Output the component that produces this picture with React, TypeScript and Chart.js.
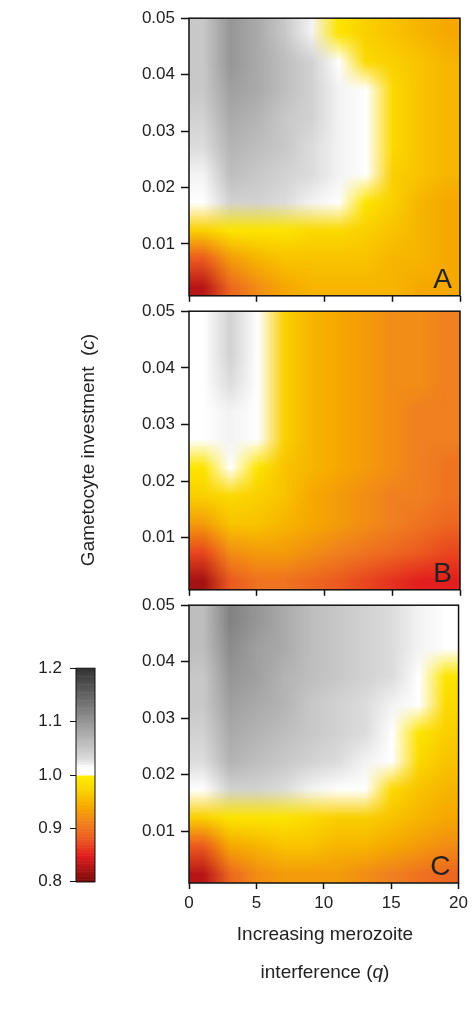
import { useEffect, useRef } from 'react';
import { Chart, registerables } from 'chart.js';

Chart.register(...registerables);

// merozoite interference (q) cell centres, gametocyte investment (c) rows top -> bottom
const Q_CENTERS = [1, 3, 5, 7, 9, 11, 13, 15, 17, 19];
const C_CENTERS = [0.0475, 0.0425, 0.0375, 0.0325, 0.0275, 0.0225, 0.0175, 0.0125, 0.0075, 0.0025];
const Y_TICKS = [0.01, 0.02, 0.03, 0.04, 0.05];
const X_TICKS = [0, 5, 10, 15, 20];
const BAR_TICKS = [0.8, 0.9, 1.0, 1.1, 1.2];

const PANEL_A = [
  [1.05, 1.10, 1.08, 1.05, 1.02, 0.99, 0.97, 0.96, 0.95, 0.94],
  [1.05, 1.10, 1.08, 1.06, 1.04, 1.01, 0.98, 0.97, 0.96, 0.95],
  [1.05, 1.09, 1.08, 1.06, 1.04, 1.02, 1.00, 0.98, 0.96, 0.95],
  [1.04, 1.08, 1.07, 1.05, 1.04, 1.02, 1.01, 0.98, 0.96, 0.95],
  [1.03, 1.07, 1.06, 1.05, 1.03, 1.02, 1.01, 0.98, 0.96, 0.95],
  [1.02, 1.06, 1.05, 1.04, 1.03, 1.02, 1.01, 0.97, 0.96, 0.95],
  [1.01, 1.04, 1.04, 1.03, 1.02, 1.01, 0.99, 0.97, 0.95, 0.94],
  [0.97, 0.99, 0.99, 0.99, 0.98, 0.98, 0.97, 0.96, 0.95, 0.94],
  [0.88, 0.93, 0.95, 0.96, 0.96, 0.96, 0.96, 0.95, 0.95, 0.94],
  [0.83, 0.89, 0.92, 0.94, 0.95, 0.95, 0.95, 0.95, 0.94, 0.94],
];
const PANEL_B = [
  [1.00, 1.04, 1.01, 0.97, 0.95, 0.94, 0.93, 0.92, 0.92, 0.91],
  [1.01, 1.04, 1.01, 0.97, 0.95, 0.94, 0.93, 0.92, 0.92, 0.91],
  [1.01, 1.03, 1.01, 0.97, 0.95, 0.94, 0.93, 0.92, 0.92, 0.91],
  [1.01, 1.02, 1.01, 0.97, 0.95, 0.94, 0.93, 0.92, 0.91, 0.91],
  [1.00, 1.02, 1.00, 0.97, 0.95, 0.94, 0.93, 0.92, 0.91, 0.91],
  [0.99, 1.01, 0.99, 0.96, 0.95, 0.94, 0.93, 0.92, 0.91, 0.90],
  [0.97, 0.98, 0.97, 0.96, 0.94, 0.93, 0.92, 0.91, 0.91, 0.90],
  [0.93, 0.96, 0.96, 0.95, 0.94, 0.93, 0.92, 0.91, 0.90, 0.89],
  [0.87, 0.92, 0.93, 0.93, 0.92, 0.91, 0.90, 0.89, 0.88, 0.87],
  [0.82, 0.88, 0.90, 0.90, 0.89, 0.88, 0.87, 0.86, 0.85, 0.85],
];
const PANEL_C = [
  [1.06, 1.12, 1.10, 1.08, 1.06, 1.05, 1.04, 1.03, 1.02, 1.01],
  [1.06, 1.11, 1.09, 1.08, 1.06, 1.05, 1.04, 1.03, 1.02, 1.00],
  [1.05, 1.10, 1.09, 1.07, 1.06, 1.05, 1.04, 1.03, 1.01, 0.99],
  [1.05, 1.09, 1.08, 1.07, 1.05, 1.04, 1.03, 1.02, 1.00, 0.98],
  [1.04, 1.08, 1.07, 1.06, 1.05, 1.04, 1.03, 1.01, 0.99, 0.97],
  [1.03, 1.07, 1.06, 1.05, 1.04, 1.03, 1.02, 1.00, 0.98, 0.96],
  [1.01, 1.04, 1.04, 1.03, 1.02, 1.01, 1.00, 0.98, 0.96, 0.95],
  [0.97, 0.99, 0.99, 0.99, 0.98, 0.97, 0.97, 0.96, 0.95, 0.94],
  [0.88, 0.94, 0.95, 0.96, 0.96, 0.95, 0.95, 0.94, 0.93, 0.92],
  [0.83, 0.89, 0.92, 0.93, 0.93, 0.93, 0.92, 0.91, 0.90, 0.89],
];

// colour stops below 1.0 (above 1.0 is a grey ramp)
const WARM_STOPS: [number, number[]][] = [
  [0.8, [122, 10, 10]],
  [0.85, [226, 30, 30]],
  [0.88, [236, 90, 32]],
  [0.91, [240, 128, 32]],
  [0.94, [246, 168, 0]],
  [0.97, [250, 208, 0]],
  [0.999, [255, 238, 0]],
];

function colorFor(v: number): number[] {
  if (v >= 1) {
    let g;
    if (v < 1.015) g = 255;
    else if (v < 1.03) g = 255 - ((v - 1.015) / 0.015) * 35;
    else g = 220 - ((v - 1.03) / 0.17) * 170;
    g = Math.max(50, g);
    return [g, g, g];
  }
  if (v <= WARM_STOPS[0][0]) return WARM_STOPS[0][1];
  for (let i = 1; i < WARM_STOPS.length; i++) {
    const [v1, c1] = WARM_STOPS[i];
    const [v0, c0] = WARM_STOPS[i - 1];
    if (v <= v1) {
      const t = (v - v0) / (v1 - v0);
      return c0.map((c, k) => c + (c1[k] - c) * t);
    }
  }
  return WARM_STOPS[WARM_STOPS.length - 1][1];
}

const FONT = '"Liberation Sans", Arial, sans-serif';

function Panel({ values, letter, top, height, showX }: { values: number[][]; letter: string; top: number; height: number; showX: boolean }) {
  const ref = useRef<HTMLCanvasElement>(null);
  useEffect(() => {
    if (!ref.current) return;
    const heat = {
      id: 'heat',
      beforeDatasetsDraw(chart: any) {
        const { ctx, chartArea, scales } = chart;
        const off = document.createElement('canvas');
        off.width = Q_CENTERS.length;
        off.height = C_CENTERS.length;
        const octx = off.getContext('2d')!;
        const img = octx.createImageData(off.width, off.height);
        values.forEach((row, r) => row.forEach((v, c) => {
          const col = colorFor(v);
          const i = (r * off.width + c) * 4;
          img.data[i] = col[0]; img.data[i + 1] = col[1]; img.data[i + 2] = col[2]; img.data[i + 3] = 255;
        }));
        octx.putImageData(img, 0, 0);
        const x0 = scales.x.getPixelForValue(0), x1 = scales.x.getPixelForValue(20);
        const y0 = scales.y.getPixelForValue(0.05), y1 = scales.y.getPixelForValue(0);
        ctx.save();
        ctx.beginPath();
        ctx.rect(chartArea.left, chartArea.top, chartArea.width, chartArea.height);
        ctx.clip();
        ctx.imageSmoothingEnabled = true;
        ctx.drawImage(off, x0, y0, x1 - x0, y1 - y0);
        ctx.restore();
      },
      afterDraw(chart: any) {
        const { ctx, chartArea } = chart;
        ctx.save();
        ctx.strokeStyle = '#111';
        ctx.lineWidth = 1.5;
        ctx.strokeRect(chartArea.left, chartArea.top, chartArea.width, chartArea.height);
        ctx.fillStyle = '#222';
        ctx.font = `28px ${FONT}`;
        ctx.textAlign = 'right';
        ctx.textBaseline = 'bottom';
        ctx.fillText(letter, chartArea.right - 8, chartArea.bottom - 2);
        ctx.restore();
      },
    };
    const chart = new Chart(ref.current, {
      type: 'scatter',
      data: { datasets: [{ data: [] }] },
      plugins: [heat],
      options: {
        animation: false,
        responsive: false,
        layout: { padding: { top: 4, right: 12, left: 0, bottom: 0 } },
        plugins: { legend: { display: false }, tooltip: { enabled: false } },
        scales: {
          x: {
            min: 0, max: 20,
            afterBuildTicks: (s: any) => { s.ticks = X_TICKS.map((v) => ({ value: v })); },
            afterFit: (s: any) => { s.height = showX ? 42 : 10; },
            grid: { drawOnChartArea: false, tickLength: 6, color: '#111', tickWidth: 1.5 },
            border: { display: false },
            ticks: { display: showX, color: '#222', font: { family: FONT, size: 17 }, padding: 4, maxRotation: 0 },
          },
          y: {
            min: 0.0008, max: 0.05,
            afterBuildTicks: (s: any) => { s.ticks = Y_TICKS.map((v) => ({ value: v })); },
            afterFit: (s: any) => { s.width = 89; },
            grid: { drawOnChartArea: false, tickLength: 8, color: '#111', tickWidth: 1.5 },
            border: { display: false },
            ticks: { color: '#222', font: { family: FONT, size: 17 }, padding: 6, callback: (v: any) => Number(v).toFixed(2) },
          },
        },
      },
    });
    return () => chart.destroy();
  }, [values, letter, showX]);
  return <canvas ref={ref} width={372} height={height} style={{ position: 'absolute', left: 100, top, width: 372, height }} />;
}

function ColorBar() {
  const ref = useRef<HTMLCanvasElement>(null);
  useEffect(() => {
    if (!ref.current) return;
    const bar = {
      id: 'bar',
      beforeDatasetsDraw(chart: any) {
        const { ctx, chartArea, scales } = chart;
        const steps = 80;
        for (let i = 0; i < steps; i++) {
          const v0 = 0.8 + (0.4 * i) / steps;
          const v1 = 0.8 + (0.4 * (i + 1)) / steps;
          const c = colorFor((v0 + v1) / 2);
          const yTop = scales.y.getPixelForValue(v1), yBot = scales.y.getPixelForValue(v0);
          ctx.fillStyle = `rgb(${c[0]},${c[1]},${c[2]})`;
          ctx.fillRect(chartArea.left, yTop, chartArea.width, yBot - yTop + 0.5);
        }
        ctx.strokeStyle = '#111';
        ctx.lineWidth = 1;
        ctx.strokeRect(chartArea.left, chartArea.top, chartArea.width, chartArea.height);
      },
    };
    const chart = new Chart(ref.current, {
      type: 'scatter',
      data: { datasets: [{ data: [] }] },
      plugins: [bar],
      options: {
        animation: false,
        responsive: false,
        layout: { padding: { top: 13, right: 15, left: 0, bottom: 17 } },
        plugins: { legend: { display: false }, tooltip: { enabled: false } },
        scales: {
          x: { display: false, min: 0, max: 1 },
          y: {
            min: 0.8, max: 1.2,
            afterBuildTicks: (s: any) => { s.ticks = BAR_TICKS.map((v) => ({ value: v })); },
            afterFit: (s: any) => { s.width = 76; },
            grid: { drawOnChartArea: false, tickLength: 6, color: '#111' },
            border: { display: false },
            ticks: { color: '#222', font: { family: FONT, size: 17 }, padding: 8, callback: (v: any) => Number(v).toFixed(1) },
          },
        },
      },
    });
    return () => chart.destroy();
  }, []);
  return <canvas ref={ref} width={110} height={250} style={{ position: 'absolute', left: 0, top: 650, width: 110, height: 250 }} />;
}

export default function App() {
  return (
    <div style={{ position: 'fixed', left: 0, top: 0, width: 472, height: 1009, background: '#fff', fontFamily: FONT, color: '#222' }}>
      <Panel values={PANEL_A} letter="A" top={2} height={310} showX={false} />
      <Panel values={PANEL_B} letter="B" top={295} height={311} showX={false} />
      <Panel values={PANEL_C} letter="C" top={589} height={336} showX={true} />
      <ColorBar />
      <div style={{ position: 'absolute', left: 88, top: 450, transform: 'translate(-50%, -50%) rotate(-90deg)', whiteSpace: 'nowrap', fontSize: 19 }}>
        Gametocyte investment &nbsp;(<i>c</i>)
      </div>
      <div style={{ position: 'absolute', left: 325, top: 915, transform: 'translateX(-50%)', whiteSpace: 'nowrap', fontSize: 19, textAlign: 'center', lineHeight: '38px' }}>
        Increasing merozoite<br />interference (<i>q</i>)
      </div>
    </div>
  );
}
